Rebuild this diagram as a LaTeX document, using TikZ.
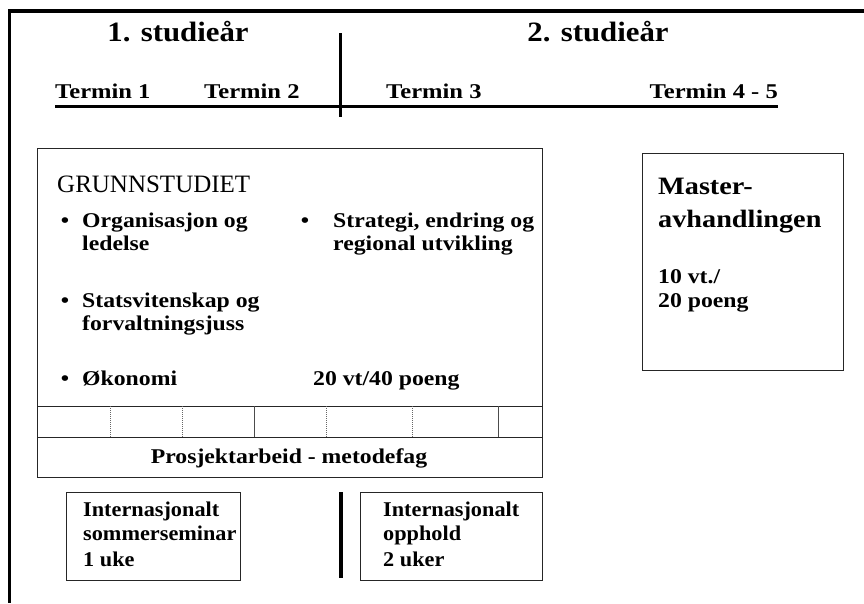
\documentclass[tikz,border=0pt]{standalone}
\usepackage{fontspec}
\setmainfont{Liberation Serif}
\newfontfamily\bodyf[FakeStretch=1.13]{Liberation Serif}
\newfontfamily\boxf[FakeStretch=1.06]{Liberation Serif}
\newfontfamily\titlef[FakeStretch=1.1]{Liberation Serif}
\newfontfamily\terminf[FakeStretch=1.17]{Liberation Serif}
\begin{document}
\begin{tikzpicture}[x=1pt,y=-1pt,
  frameline/.style={line width=3.5pt, black},
  heavyline/.style={line width=3pt, black},
  box/.style={draw=black!85, line width=1.3pt, inner sep=0pt, anchor=north west},
  title/.style={anchor=base, inner sep=0pt, font=\titlef\bfseries\fontsize{28}{30}\selectfont},
  termin/.style={anchor=base west, inner sep=0pt, font=\terminf\bfseries\fontsize{21}{24}\selectfont},
  txt/.style={anchor=base west, inner sep=0pt, font=\bodyf\bfseries\fontsize{21}{23}\selectfont},
  boxtxt/.style={anchor=base west, inner sep=0pt, font=\boxf\bfseries\fontsize{21}{23}\selectfont},
  bigtxt/.style={anchor=base west, inner sep=0pt, font=\bodyf\bfseries\fontsize{25}{30}\selectfont},
  bul/.style={anchor=base, inner sep=0pt, font=\bodyf\bfseries\fontsize{21}{23}\selectfont},
  dotdiv/.style={densely dotted, line width=1pt, black!60},
  soliddiv/.style={line width=1pt, black!70}]
\useasboundingbox (0,0) rectangle (864,603);
% outer frame
\coordinate (fTR) at (864,11);
\coordinate (fTL) at (9.5,11);
\coordinate (fBL) at (9.5,603);
\draw[frameline] (fTR) -- (fTL) -- (fBL);
% header
\node[title] (y1) at (178,41) {1. studieår};
\node[title] (y2) at (598,41) {2. studieår};
\node[termin] (t1) at (55,98) {Termin 1};
\node[termin] (t2) at (204,98) {Termin 2};
\node[termin] (t3) at (386,98) {Termin 3};
\node[termin, anchor=base east] (t45) at (778,98) {Termin 4 - 5};
\coordinate (uL) at (55,106);
\coordinate (uR) at (778,106);
\draw[heavyline] (uL) -- (uR);
\coordinate (vT) at (340,33);
\coordinate (vB) at (340,117);
\draw[heavyline] (vT) -- (vB);
% main box
\node[box, minimum width=505pt, minimum height=258pt] (main) at (37,148) {};
\node[box, minimum width=505pt, minimum height=31pt] (strip) at (37,406) {};
\node[box, minimum width=505pt, minimum height=40pt] (proj) at (37,437) {};
\node[anchor=base west, inner sep=0pt, font=\fontsize{25}{28}\selectfont] (gs) at (57,192) {GRUNNSTUDIET};
\node[bul] (b1) at (65,227) {•};
\node[txt] (o1) at (82,227) {Organisasjon og};
\node[txt] (o2) at (82,250) {ledelse};
\node[bul] (b2) at (305,227) {•};
\node[txt] (s1) at (333,227) {Strategi, endring og};
\node[txt] (s2) at (333,250) {regional utvikling};
\node[bul] (b3) at (65,307) {•};
\node[txt] (f1) at (82,307) {Statsvitenskap og};
\node[txt] (f2) at (82,330) {forvaltningsjuss};
\node[bul] (b4) at (65,385) {•};
\node[txt] (ok) at (82,385) {Økonomi};
\node[txt] (vt) at (313,385) {20 vt/40 poeng};
% strip dividers
\foreach \xx/\st in {110/dotdiv,182/dotdiv,254/soliddiv,326/dotdiv,412/dotdiv,498/soliddiv}{
  \draw[\st] (\xx,406) -- (\xx,437);
}
\node[anchor=base, inner sep=0pt, font=\bodyf\bfseries\fontsize{21}{23}\selectfont] (pm) at (289,463) {Prosjektarbeid - metodefag};
% bottom boxes
\node[box, minimum width=174pt, minimum height=88pt] (lb) at (66,492) {};
\node[boxtxt] (l1) at (83,516) {Internasjonalt};
\node[boxtxt] (l2) at (83,540) {sommerseminar};
\node[boxtxt] (l3) at (83,566) {1 uke};
\coordinate (bvT) at (341,492);
\coordinate (bvB) at (341,578);
\draw[line width=3.5pt] (bvT) -- (bvB);
\node[box, minimum width=182pt, minimum height=88pt] (rb) at (360,492) {};
\node[boxtxt] (r1) at (383,516) {Internasjonalt};
\node[boxtxt] (r2) at (383,540) {opphold};
\node[boxtxt] (r3) at (383,566) {2 uker};
% master box
\node[box, minimum width=201pt, minimum height=217pt] (mb) at (642,153) {};
\node[bigtxt] (m1) at (658,194) {Master-};
\node[bigtxt] (m2) at (658,227) {avhandlingen};
\node[txt] (m3) at (658,283) {10 vt./};
\node[txt] (m4) at (658,307) {20 poeng};
\end{tikzpicture}
\end{document}
